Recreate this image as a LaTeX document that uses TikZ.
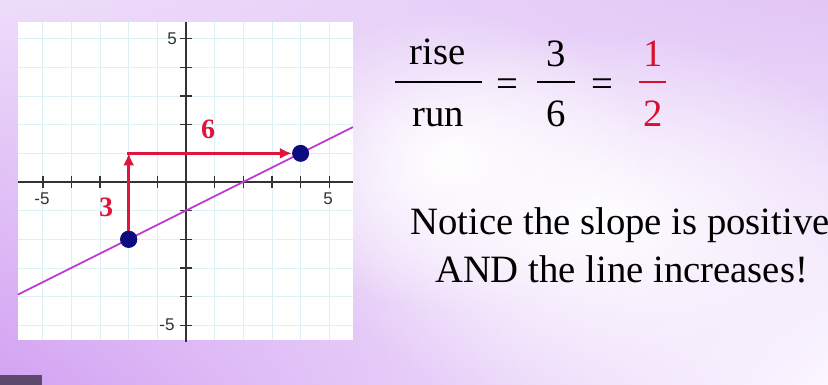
\documentclass[tikz,border=0pt]{standalone}
\usepackage{fontspec}
\setmainfont{Liberation Serif}
\newfontfamily\ticksans{Liberation Sans}
\usetikzlibrary{fadings,shadings,arrows.meta}
\definecolor{bgpurple}{HTML}{D2A2F2}
\definecolor{bglav}{HTML}{EEDDFA}
\definecolor{bgtr}{HTML}{E2C6F6}
\definecolor{bgwhite}{HTML}{FBF7FF}
\definecolor{gridc}{HTML}{DDF0F3}
\definecolor{axisc}{HTML}{333333}
\definecolor{risered}{HTML}{E0143C}
\definecolor{fracred}{HTML}{D8102E}
\definecolor{linec}{HTML}{C03CD0}
\definecolor{dotc}{HTML}{0C0C80}
\definecolor{cornerc}{HTML}{5C4A6E}
\tikzfading[name=whiteblob, inner color=transparent!0, outer color=transparent!100]
\tikzset{
  gridline/.style={gridc, line width=0.9pt},
  axisline/.style={axisc, line width=1.5pt},
  tickline/.style={axisc, line width=1.5pt},
  ticklabel/.style={font=\ticksans\fontsize{17}{17}\selectfont, text=axisc, inner sep=0pt},
  runarrow/.style={risered, line width=3.4pt, -{Latex[length=12pt,width=11pt]}},
  slopeline/.style={linec, line width=1.8pt},
  dotnode/.style={circle, fill=dotc, minimum size=17pt, inner sep=0pt},
  steplabel/.style={font=\bfseries\fontsize{28}{28}\selectfont, text=risered, inner sep=0pt},
  bigtext/.style={font=\fontsize{38.7}{46}\selectfont, inner sep=0pt, anchor=base},
  fracbar/.style={line width=2pt},
}
\begin{document}
\begin{tikzpicture}[x=1pt,y=-1pt]
\useasboundingbox (0,0) rectangle (828,385);
\clip (0,0) rectangle (828,385);
% background
\begin{scope}[y=1pt]
\shade[upper left=bglav, upper right=bgtr, lower left=bgpurple, lower right=bgwhite] (0,-385) rectangle (828,0);
\fill[white, path fading=whiteblob] (600,-220) ellipse (300 and 190);
\fill[white, path fading=whiteblob] (450,-160) ellipse (200 and 150);
\end{scope}
\fill[cornerc] (0,375) rectangle (42,385);
% panel
\fill[white] (18,22) rectangle (353,340);
\foreach \k in {-5,...,5} {
  \draw[gridline] ({186+\k*28.65},22) -- ({186+\k*28.65},340);
  \draw[gridline] (18,{182+\k*28.65}) -- (353,{182+\k*28.65});
}
% axes
\draw[axisline] (18,182) -- (353,182);
\draw[axisline] (186,22) -- (186,342);
\foreach \k in {-5,...,5} {
  \draw[tickline] ({186+\k*28.65},176) -- ({186+\k*28.65},188);
  \draw[tickline] (180,{182+\k*28.65}) -- (192,{182+\k*28.65});
}
\node[ticklabel] (ytop) at (172,38.5) {5};
\node[ticklabel] (ybot) at (167,325) {-5};
\node[ticklabel] (xleft) at (42,199) {-5};
\node[ticklabel] (xright) at (328,199) {5};
% slope line
\coordinate (lineA) at (18,294.6);
\coordinate (lineB) at (353,127.1);
\draw[slopeline] (lineA) -- (lineB);
% points and rise/run
\coordinate (corner) at (128.7,153.35);
\node[dotnode] (p1) at (128.7,239.3) {};
\node[dotnode] (p2) at (300.6,153.35) {};
\draw[runarrow] (p1.center) -- (corner);
\draw[runarrow, shorten <=-1.7pt] (corner) -- (p2.west);
\node[dotnode] (p1top) at (p1) {};
\node[steplabel] (six) at (208,129) {6};
\node[steplabel] (three) at (106,207) {3};
% fractions
\node[bigtext] (rise) at (437.5,65) {rise};
\node[bigtext] (run) at (438.5,127) {run};
\draw[fracbar] (395,82) -- (482,82);
\node[bigtext, anchor=center] (eq1) at (507.5,88) {=};
\node[bigtext] (three2) at (556,67) {3};
\node[bigtext] (six2) at (556,127) {6};
\draw[fracbar] (537,82) -- (575,82);
\node[bigtext, anchor=center] (eq2) at (602.5,88) {=};
\node[bigtext, text=fracred] (one) at (653,67) {1};
\node[bigtext, text=fracred] (two) at (653,127) {2};
\draw[fracbar, fracred] (639,82) -- (666,82);
% notice text
\node[bigtext] (note1) at (620,235) {Notice the slope is positive};
\node[bigtext] (note2) at (621.5,282) {AND the line increases!};
\end{tikzpicture}
\end{document}
